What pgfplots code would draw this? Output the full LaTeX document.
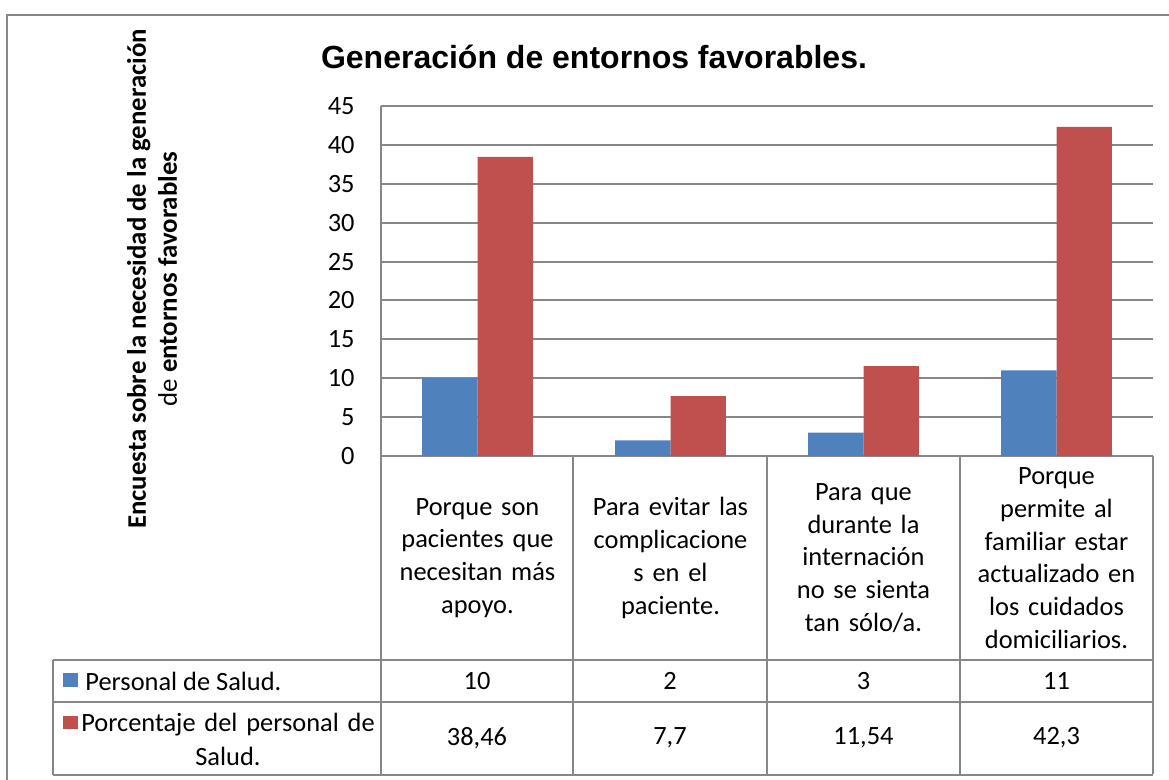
\documentclass[border=0pt]{standalone}
\usepackage{fontspec}
\setmainfont{Carlito}
\newfontfamily\arialf{Liberation Sans}
\usepackage{pgfplots}
\pgfplotsset{compat=1.18}
\definecolor{serA}{HTML}{4F81BD}
\definecolor{serB}{HTML}{C0504D}
\definecolor{rule}{HTML}{878787}
\newcommand{\catfont}{\fontsize{13.2}{16.35}\selectfont}
\newcommand{\tickfont}{\fontsize{13.2}{15}\selectfont}
\newcommand{\tabfont}{\fontsize{13.2}{17}\selectfont}

\begin{document}
\begin{tikzpicture}[x=1pt,y=1pt]
\path[use as bounding box] (0,0) rectangle (584.5,390);
\draw[rule,line width=1pt] (3.5,0) -- (3.5,382.5) -- (584.5,382.5);

\begin{axis}[
  at={(190.5pt,162pt)}, anchor=south west,
  scale only axis, width=386pt, height=175pt,
  ybar=0pt, bar width=0.2865,
  xmin=-0.5, xmax=3.5, ymin=0, ymax=45,
  ytick={0,5,...,45}, xtick={0,1,2,3},
  xticklabels={{Porque son\\pacientes que\\necesitan más\\apoyo.},
               {Para evitar las\\complicacione\\s en el\\paciente.},
               {Para que\\durante la\\internación\\no se sienta\\tan sólo/a.},
               {Porque\\permite al\\familiar estar\\actualizado en\\los cuidados\\domiciliarios.}},
  major tick length=0pt,
  ymajorgrids, grid style={rule,line width=1pt},
  axis x line*=bottom, axis y line*=left,
  axis line style={rule,line width=1pt,-},
  /pgf/number format/assume math mode=true,
  yticklabel style={font=\tickfont, anchor=east, inner sep=0pt, xshift=-13pt},
  xticklabel style={font=\catfont, text width=92pt, align=center, anchor=center,
                    inner sep=0pt, yshift=-51pt},
]
\addplot[fill=serA, draw=none, bar shift=-0.14325] coordinates {(0,10) (1,2) (2,3) (3,11)};
\addplot[fill=serB, draw=none, bar shift=0.14325] coordinates {(0,38.46) (1,7.7) (2,11.54) (3,42.3)};
\end{axis}

% titulo y eje
\node[font=\arialf\bfseries\fontsize{16}{19}\selectfont] at (297,361.5) {Generación de entornos favorables.};
\node[rotate=90, align=center, font=\fontsize{13.4}{15.5}\selectfont] at (76,250.5)
  {\textbf{Encuesta sobre la necesidad de la generación}\\de \textbf{entornos favorables}};

% tabla de datos
\draw[rule,line width=1pt]
  (190.5,162) -- (190.5,3) (286.5,162) -- (286.5,3) (383.5,162) -- (383.5,3)
  (480,162) -- (480,3) (576.5,162) -- (576.5,3)
  (26.5,60) -- (576.5,60) (26.5,39) -- (576.5,39) (26.5,2.5) -- (576.5,2.5)
  (26.5,60) -- (26.5,2.5);
\fill[serA] (31.5,46.5) rectangle (39,53.5);
\fill[serB] (31.5,25.5) rectangle (39,32);
\node[font=\tabfont, anchor=west, inner sep=0pt] at (42.5,49.5) {Personal de Salud.};
\node[font=\tabfont, inner sep=0pt, text width=150pt, align=center] at (114,20.5)
  {Porcentaje del personal de\\Salud.};
\foreach \x/\a/\b in {238.5/10/{38,46}, 335/2/{7,7}, 431.75/3/{11,54}, 528.25/11/{42,3}} {
  \node[font=\tabfont] at (\x,49.5) {\a};
  \node[font=\tabfont] at (\x,21) {\b};
}
\end{tikzpicture}
\end{document}
